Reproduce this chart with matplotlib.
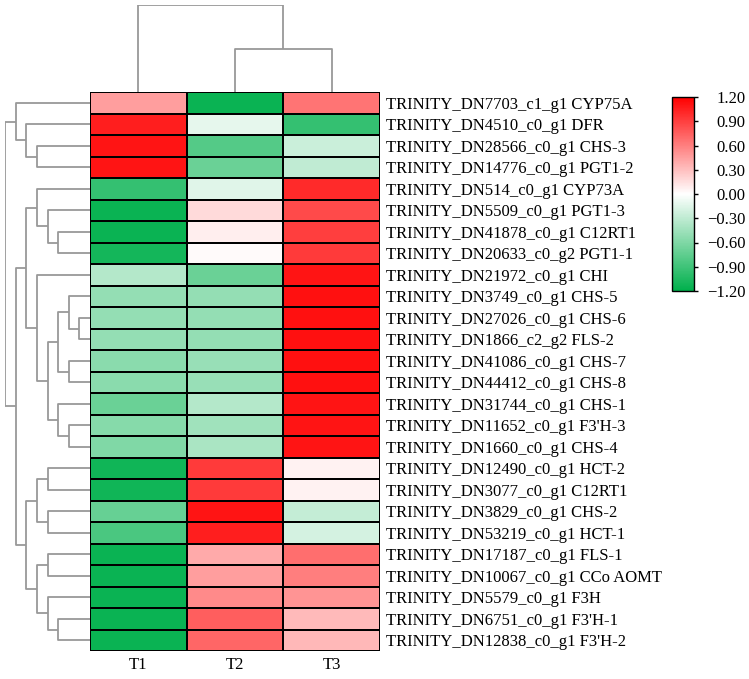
import matplotlib
matplotlib.use("Agg")
import matplotlib.pyplot as plt
import numpy as np
from matplotlib.colors import LinearSegmentedColormap

plt.rcParams['font.family'] = ['Liberation Serif', 'DejaVu Serif']

samples = ["T1", "T2", "T3"]
genes = [
    "TRINITY_DN7703_c1_g1 CYP75A",
    "TRINITY_DN4510_c0_g1 DFR",
    "TRINITY_DN28566_c0_g1 CHS-3",
    "TRINITY_DN14776_c0_g1 PGT1-2",
    "TRINITY_DN514_c0_g1 CYP73A",
    "TRINITY_DN5509_c0_g1 PGT1-3",
    "TRINITY_DN41878_c0_g1 C12RT1",
    "TRINITY_DN20633_c0_g2 PGT1-1",
    "TRINITY_DN21972_c0_g1 CHI",
    "TRINITY_DN3749_c0_g1 CHS-5",
    "TRINITY_DN27026_c0_g1 CHS-6",
    "TRINITY_DN1866_c2_g2 FLS-2",
    "TRINITY_DN41086_c0_g1 CHS-7",
    "TRINITY_DN44412_c0_g1 CHS-8",
    "TRINITY_DN31744_c0_g1 CHS-1",
    "TRINITY_DN11652_c0_g1 F3'H-3",
    "TRINITY_DN1660_c0_g1 CHS-4",
    "TRINITY_DN12490_c0_g1 HCT-2",
    "TRINITY_DN3077_c0_g1 C12RT1",
    "TRINITY_DN3829_c0_g1 CHS-2",
    "TRINITY_DN53219_c0_g1 HCT-1",
    "TRINITY_DN17187_c0_g1 FLS-1",
    "TRINITY_DN10067_c0_g1 CCo AOMT",
    "TRINITY_DN5579_c0_g1 F3H",
    "TRINITY_DN6751_c0_g1 F3'H-1",
    "TRINITY_DN12838_c0_g1 F3'H-2",
]

# z-scores per gene (T1, T2, T3)
t1 = [0.45, 1.05, 1.10, 1.10, -0.95, -1.15, -1.15, -1.10, -0.35, -0.50, -0.50, -0.50, -0.55,
      -0.55, -0.70, -0.57, -0.60, -1.12, -1.12, -0.72, -0.85, -1.15, -1.15, -1.15, -1.15, -1.15]
t2 = [-1.15, -0.12, -0.80, -0.70, -0.15, 0.17, 0.08, 0.02, -0.70, -0.50, -0.50, -0.50, -0.48,
      -0.48, -0.35, -0.45, -0.40, 0.92, 0.92, 1.10, 1.05, 0.40, 0.45, 0.55, 0.75, 0.72]
t3 = [0.65, -0.95, -0.25, -0.30, 1.00, 0.85, 0.90, 0.92, 1.10, 1.12, 1.12, 1.12, 1.12,
      1.12, 1.10, 1.10, 1.10, 0.06, 0.06, -0.28, -0.20, 0.68, 0.60, 0.50, 0.32, 0.33]

# cluster trees: (merge height, left, right), leaves are row / column indices
row_tree = (8,
            (7, 0, (6, 1, (5, 2, 3))),
            (7,
             (6,
              (5, 4, (4, 5, (3, 6, 7))),
              (5, 8, (4,
                      (3, (2, 9, (1, 10, 11)), (2, 12, 13)),
                      (3, 14, (2, 15, 16))))),
             (6,
              (5, (4, 17, 18), (4, 19, 20)),
              (5, (4, 21, 22), (4, 23, (3, 24, 25))))))
col_tree = (2, 0, (1, 1, 2))

ticks = [1.2, 0.9, 0.6, 0.3, 0.0, -0.3, -0.6, -0.9, -1.2]


def draw_tree(ax, node, side):
    if isinstance(node, int):
        return node + 0.5, 0
    h, left, right = node
    pl, hl = draw_tree(ax, left, side)
    pr, hr = draw_tree(ax, right, side)
    hs = [hl, h, h, hr]
    ps = [pl, pl, pr, pr]
    if side == "left":
        ax.plot(hs, ps, color="#999999", lw=1.3, solid_capstyle="butt")
    else:
        ax.plot(ps, hs, color="#999999", lw=1.3, solid_capstyle="butt")
    return (pl + pr) / 2, h


W, H = 749, 679
fig = plt.figure(figsize=(W / 100, H / 100), dpi=100)


def box(x0, y0, x1, y1):
    return [x0 / W, 1 - y1 / H, (x1 - x0) / W, (y1 - y0) / H]


data = np.array([t1, t2, t3]).T
cmap = LinearSegmentedColormap.from_list("gwr", ["#00b04c", "#ffffff", "#ff0000"])

ax = fig.add_axes(box(90, 92, 380, 651))
mesh = ax.pcolormesh(data, cmap=cmap, vmin=-1.2, vmax=1.2,
                     edgecolors="black", linewidth=1.3)
ax.set_xlim(0, 3)
ax.set_ylim(len(genes), 0)
ax.set_xticks(np.arange(3) + 0.5)
ax.set_xticklabels(samples, fontsize=12)
ax.set_yticks(np.arange(len(genes)) + 0.5)
ax.set_yticklabels(genes, fontsize=12)
ax.yaxis.tick_right()
ax.tick_params(length=0, pad=4)
for s in ax.spines.values():
    s.set_visible(False)

axl = fig.add_axes(box(5, 92, 90, 651))
draw_tree(axl, row_tree, "left")
axl.set_xlim(8, 0)
axl.set_ylim(len(genes), 0)
axl.axis("off")

axt = fig.add_axes(box(90, 5, 380, 92))
draw_tree(axt, col_tree, "top")
axt.set_xlim(0, 3)
axt.set_ylim(0, 2)
axt.axis("off")

cax = fig.add_axes(box(672, 97, 694, 291))
cb = fig.colorbar(mesh, cax=cax, ticks=ticks)
cb.ax.set_yticklabels(["%.2f" % t if t >= 0 else "\u2212%.2f" % -t for t in ticks],
                      fontsize=12, ha="right")
cb.outline.set_linewidth(1)
cb.ax.tick_params(length=3, width=1, pad=34)

fig.savefig("out.png", dpi=100)
